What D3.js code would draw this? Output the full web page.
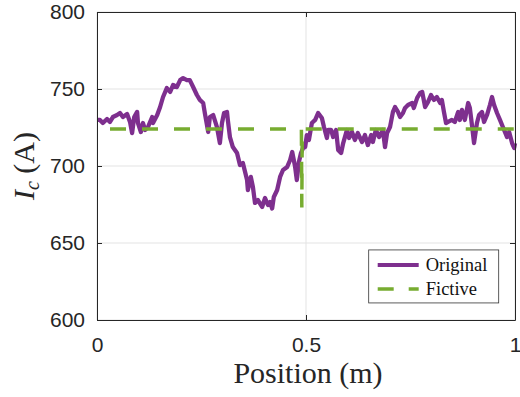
<!DOCTYPE html>
<html>
<head>
<meta charset="utf-8">
<script src="https://d3js.org/d3.v7.min.js"></script>
<style>
  body { margin: 0; background: #fff; }
</style>
</head>
<body>
<div id="chart"></div>
<script>
// data
var positions = [0, 0.007, 0.014, 0.024, 0.031, 0.038, 0.048, 0.055, 0.062, 0.072,
  0.079, 0.084, 0.089, 0.096, 0.098, 0.105, 0.110, 0.115, 0.122, 0.132,
  0.134, 0.144, 0.151, 0.158, 0.167, 0.175, 0.182, 0.191, 0.199, 0.206,
  0.215, 0.222, 0.230, 0.239, 0.246, 0.254, 0.258, 0.266, 0.270, 0.278,
  0.287, 0.294, 0.299, 0.304, 0.311, 0.313, 0.318, 0.325, 0.335, 0.342,
  0.349, 0.359, 0.361, 0.368, 0.373, 0.378, 0.385, 0.395, 0.402, 0.409,
  0.414, 0.419, 0.423, 0.431, 0.438, 0.445, 0.455, 0.462, 0.467, 0.474,
  0.478, 0.483, 0.488, 0.493, 0.498, 0.502, 0.507, 0.514, 0.522, 0.529,
  0.538, 0.543, 0.550, 0.553, 0.560, 0.565, 0.572, 0.577, 0.584, 0.589,
  0.598, 0.603, 0.610, 0.617, 0.624, 0.634, 0.641, 0.648, 0.656, 0.660,
  0.667, 0.675, 0.684, 0.689, 0.694, 0.701, 0.708, 0.713, 0.720, 0.725,
  0.732, 0.737, 0.744, 0.754, 0.758, 0.766, 0.773, 0.778, 0.785, 0.792,
  0.799, 0.806, 0.813, 0.821, 0.825, 0.830, 0.835, 0.840, 0.849, 0.856,
  0.864, 0.868, 0.873, 0.880, 0.888, 0.892, 0.897, 0.902, 0.909, 0.914,
  0.921, 0.926, 0.933, 0.940, 0.945, 0.950, 0.957, 0.964, 0.971, 0.981,
  0.986, 0.993, 0.998, 1.0];

var original = [729.9, 729.9, 727.9, 730.5, 728.6, 731.8, 733.1, 734.4, 731.8, 733.8,
  728.6, 721.4, 731.8, 735.1, 727.9, 722.1, 727.9, 723.4, 725.3, 731.8,
  727.9, 733.1, 738.3, 744.8, 750.6, 748.1, 752.6, 751.3, 755.8, 757.1,
  755.8, 755.8, 751.3, 746.1, 742.9, 740.9, 734.4, 722.1, 731.8, 733.1,
  725.3, 714.9, 727.9, 734.4, 735.1, 729.9, 718.8, 712.3, 708.4, 700.6,
  701.9, 690.9, 684.4, 692.9, 686.4, 676.0, 677.9, 673.4, 679.2, 674.7,
  676.6, 672.4, 679.9, 684.4, 692.9, 697.4, 699.4, 703.9, 709.1, 699.4,
  690.9, 702.6, 708.4, 711.7, 712.3, 720.1, 716.9, 727.9, 729.9, 734.4,
  731.2, 725.3, 718.2, 723.4, 723.4, 718.8, 723.4, 710.4, 708.4, 714.9,
  723.4, 718.2, 722.1, 716.9, 721.4, 715.6, 720.1, 713.6, 720.1, 715.6,
  723.4, 718.8, 723.4, 712.3, 721.4, 725.3, 735.1, 738.3, 735.1, 731.8,
  734.4, 737.7, 739.6, 740.9, 737.7, 744.2, 747.4, 748.1, 738.3, 741.6,
  746.1, 742.9, 744.8, 740.9, 742.9, 735.1, 727.9, 728.6, 729.9, 728.6,
  735.1, 729.9, 736.4, 729.9, 740.9, 737.7, 726.6, 714.9, 727.9, 733.1,
  735.1, 728.6, 733.1, 739.6, 744.8, 739.6, 734.4, 729.9, 725.3, 718.8,
  722.1, 714.9, 711.7, 714.9];

var fictivePositions = [0, 0.489, 0.490, 0.491, 1];
var fictive = [724, 724, 673, 724, 724];

var xTicks = [0, 0.5, 1];
var yTicks = [600, 650, 700, 750, 800];

// set the dimensions and margins of the graph
var margin = {top: 12, right: 5, bottom: 77, left: 97},
    width = 520 - margin.left - margin.right,
    height = 397 - margin.top - margin.bottom;

var svg = d3.select("#chart")
  .append("svg")
    .attr("width", 520)
    .attr("height", 397)
  .append("g")
    .attr("transform", "translate(" + margin.left + "," + margin.top + ")");

var x = d3.scaleLinear().domain([0, 1]).range([0, width]);
var y = d3.scaleLinear().domain([600, 800]).range([height, 0]);

var axisColor = "#262626";

// grid lines
svg.append("g")
  .selectAll("line")
  .data(yTicks)
  .enter()
  .append("line")
    .attr("x1", 0)
    .attr("x2", width)
    .attr("y1", function(d) { return y(d); })
    .attr("y2", function(d) { return y(d); })
    .attr("stroke", "#e3e3e3")
    .attr("stroke-width", 1);
svg.append("g")
  .selectAll("line")
  .data(xTicks)
  .enter()
  .append("line")
    .attr("x1", function(d) { return x(d); })
    .attr("x2", function(d) { return x(d); })
    .attr("y1", 0)
    .attr("y2", height)
    .attr("stroke", "#e3e3e3")
    .attr("stroke-width", 1);

// Lines
var line = d3.line()
  .x(function(d) { return x(d[0]); })
  .y(function(d) { return y(d[1]); });

svg.append("path")
  .datum(positions.map(function(p, i) { return [p, original[i]]; }))
  .attr("d", line)
  .attr("fill", "none")
  .attr("stroke", "#7e2f8e")
  .attr("stroke-width", 4.3)
  .attr("stroke-linejoin", "round");

svg.append("path")
  .datum(fictivePositions.map(function(p, i) { return [p, fictive[i]]; }))
  .attr("d", line)
  .attr("fill", "none")
  .attr("stroke", "#77ac30")
  .attr("stroke-width", 3.5)
  .attr("stroke-dasharray", "16,16")
  .attr("stroke-dashoffset", 19);

// axes (box with inward ticks)
var tickLen = 5;
svg.append("g")
  .attr("transform", "translate(0," + height + ")")
  .call(d3.axisBottom(x).tickValues(xTicks).tickSizeInner(-tickLen).tickSizeOuter(0)
    .tickPadding(17).tickFormat(d3.format("")));
svg.append("g")
  .call(d3.axisTop(x).tickValues(xTicks).tickSizeInner(-tickLen).tickSizeOuter(0)
    .tickFormat(""));
svg.append("g")
  .call(d3.axisLeft(y).tickValues(yTicks).tickSizeInner(-tickLen).tickSizeOuter(0)
    .tickPadding(12));
svg.append("g")
  .attr("transform", "translate(" + width + ",0)")
  .call(d3.axisRight(y).tickValues(yTicks).tickSizeInner(-tickLen).tickSizeOuter(0)
    .tickFormat(""));

svg.selectAll(".domain, .tick line")
  .attr("stroke", axisColor)
  .attr("stroke-width", 1);
svg.selectAll(".tick text")
  .style("font-family", "'Liberation Sans', Arial, sans-serif")
  .style("font-size", "21px")
  .style("fill", axisColor);

// axis labels
svg.append("text")
  .attr("x", width / 2 + 2)
  .attr("y", height + 63)
  .attr("text-anchor", "middle")
  .style("font-family", "'Liberation Serif', serif")
  .style("font-size", "30px")
  .style("fill", axisColor)
  .text("Position (m)");

var yl = svg.append("text")
  .attr("transform", "translate(-63," + (height / 2) + ") rotate(-90)")
  .attr("text-anchor", "middle")
  .style("font-family", "'Liberation Serif', serif")
  .style("font-size", "30px")
  .style("fill", axisColor);
yl.append("tspan").style("font-style", "italic").text("I");
yl.append("tspan").style("font-style", "italic").style("font-size", "20px")
  .attr("dy", 5).text("c");
yl.append("tspan").attr("dy", -5).text(" (A)");

// legend
var legendNames = ["Original", "Fictive"];
var legendColors = ["#7e2f8e", "#77ac30"];
var legend = svg.append("g")
  .attr("transform", "translate(" + (x(0.65)) + "," + (y(645.5)) + ")");
legend.append("rect")
  .attr("width", 130)
  .attr("height", 53)
  .attr("fill", "white")
  .attr("stroke", "#333")
  .attr("stroke-width", 0.8);
legend.selectAll("line.item")
  .data(legendNames)
  .enter()
  .append("line")
    .attr("class", "item")
    .attr("x1", 9)
    .attr("x2", 50)
    .attr("y1", function(d, i) { return 15 + i * 24; })
    .attr("y2", function(d, i) { return 15 + i * 24; })
    .attr("stroke", function(d, i) { return legendColors[i]; })
    .attr("stroke-width", function(d, i) { return i ? 3.5 : 4; })
    .attr("stroke-dasharray", function(d, i) { return i ? "16,15" : null; });
legend.selectAll("text.item")
  .data(legendNames)
  .enter()
  .append("text")
    .attr("class", "item")
    .attr("x", 57)
    .attr("y", function(d, i) { return 21 + i * 24; })
    .style("font-family", "'Liberation Serif', serif")
    .style("font-size", "18.5px")
    .style("fill", "#111")
    .text(function(d) { return d; });
</script>
</body>
</html>
